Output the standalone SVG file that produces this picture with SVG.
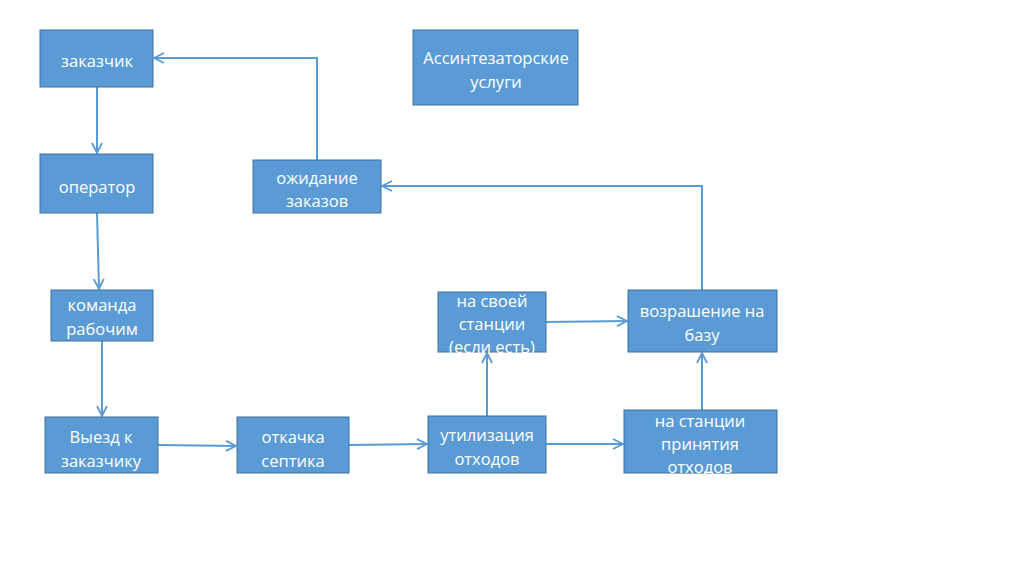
<svg xmlns="http://www.w3.org/2000/svg" width="1024" height="574" viewBox="0 0 1024 574">
<style>
.box{fill:#5B9BD5;stroke:#41719C;stroke-width:1}
.t{fill:#fff;font-family:"Open Sans","Liberation Sans",sans-serif;font-size:16.5px;text-anchor:middle;dominant-baseline:central}
.c{fill:none;stroke:#5B9BD5;stroke-width:2}
</style>
<defs>
<marker id="a" viewBox="0 0 12 12" refX="11" refY="6" markerWidth="12" markerHeight="12" markerUnits="userSpaceOnUse" orient="auto">
<path d="M1,1 L11,6 L1,11" fill="none" stroke="#5B9BD5" stroke-width="1.8"/>
</marker>
</defs>
<rect width="1024" height="574" fill="#fff"/>
<g id="connectors" class="c" marker-end="url(#a)">
<path d="M317,160 V58 H154"/>
<path d="M97,87 V153"/>
<path d="M97,213 L99,289"/>
<path d="M102,341 V416"/>
<path d="M158,445 L236,446"/>
<path d="M349,445 L427,444"/>
<path d="M487,416 V353"/>
<path d="M546,322 L627,321"/>
<path d="M546,444 L623,444"/>
<path d="M702,410 V353"/>
<path d="M702,290 V186 H382"/>
</g>
<g id="n1"><rect class="box" x="40" y="30" width="113" height="57"/><text class="t" x="97" y="60">заказчик</text></g>
<g id="n2"><rect class="box" x="40" y="154" width="113" height="59"/><text class="t" x="97" y="186">оператор</text></g>
<g id="n3"><rect class="box" x="253" y="160" width="128" height="53"/><text class="t" x="317" y="177">ожидание</text><text class="t" x="317" y="200">заказов</text></g>
<g id="n4"><rect class="box" x="413" y="30" width="165" height="75"/><text class="t" x="496" y="57">Ассинтезаторские</text><text class="t" x="496" y="81">услуги</text></g>
<g id="n5"><rect class="box" x="51" y="290" width="102" height="51"/><text class="t" x="102" y="304">команда</text><text class="t" x="102" y="328">рабочим</text></g>
<g id="n6"><rect class="box" x="45" y="417" width="113" height="56"/><text class="t" x="101" y="436">Выезд к</text><text class="t" x="101" y="460">заказчику</text></g>
<g id="n7"><rect class="box" x="237" y="417" width="112" height="56"/><text class="t" x="293" y="436">откачка</text><text class="t" x="293" y="460">септика</text></g>
<g id="n8"><rect class="box" x="438" y="292" width="108" height="60"/><text class="t" x="492" y="300">на своей</text><text class="t" x="492" y="323">станции</text><text class="t" x="492" y="346">(если есть)</text></g>
<g id="n9"><rect class="box" x="428" y="416" width="118" height="57"/><text class="t" x="487" y="434">утилизация</text><text class="t" x="487" y="458">отходов</text></g>
<g id="n10"><rect class="box" x="628" y="290" width="149" height="62"/><text class="t" x="702" y="310">возрашение на</text><text class="t" x="702" y="334">базу</text></g>
<g id="n11"><rect class="box" x="624" y="410" width="153" height="63"/><text class="t" x="700" y="420">на станции</text><text class="t" x="700" y="443">принятия</text><text class="t" x="700" y="466">отходов</text></g>
</svg>
